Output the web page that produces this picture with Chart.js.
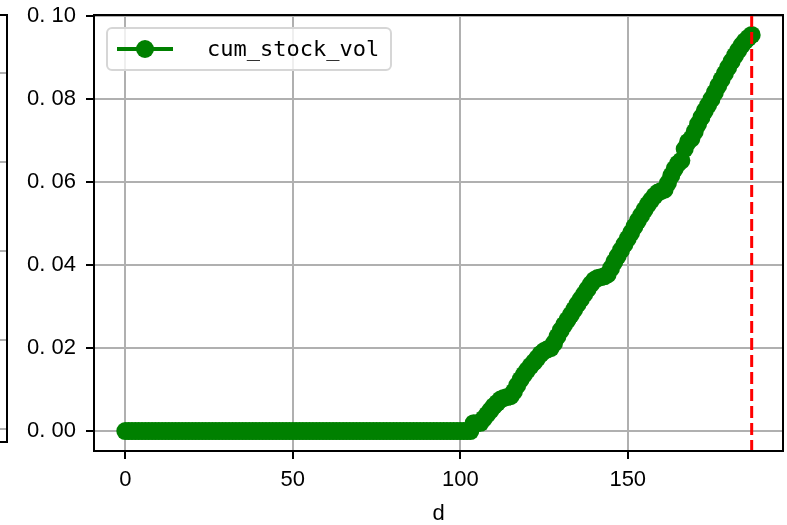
<!DOCTYPE html>
<html>
<head>
	<script src="https://cdn.jsdelivr.net/npm/chart.js@4/dist/chart.umd.min.js"></script>
	<title>cum_stock_vol</title>
	<style>
		body { margin: 0; background: #fff; }
	</style>
</head>
<body>
	<canvas id="myChart" width="787" height="525"></canvas>
	<script type="text/javascript">
		// d = 0 .. 187
		const seriesLabel = 'cum_stock_vol';
		const xTitle = 'd';
		const markerD = 187;   // red dashed vertical line
		const cumStockVol = [
			0, 0, 0, 0, 0, 0, 0, 0, 0, 0, 0, 0, 0, 0, 0, 0, 0, 0, 0, 0,
			0, 0, 0, 0, 0, 0, 0, 0, 0, 0, 0, 0, 0, 0, 0, 0, 0, 0, 0, 0,
			0, 0, 0, 0, 0, 0, 0, 0, 0, 0, 0, 0, 0, 0, 0, 0, 0, 0, 0, 0,
			0, 0, 0, 0, 0, 0, 0, 0, 0, 0, 0, 0, 0, 0, 0, 0, 0, 0, 0, 0,
			0, 0, 0, 0, 0, 0, 0, 0, 0, 0, 0, 0, 0, 0, 0, 0, 0, 0, 0, 0,
			0, 0, 0, 0,
			0.0019, 0.0019, 0.0020, 0.0030, 0.0040, 0.0050, 0.0060, 0.0068, 0.0076, 0.0080,
			0.0082, 0.0084, 0.0095, 0.0110, 0.0124, 0.0136, 0.0147, 0.0157, 0.0166, 0.0176,
			0.0186, 0.0193, 0.0197, 0.0200, 0.0212, 0.0228, 0.0243, 0.0256, 0.0268, 0.0280,
			0.0293, 0.0306, 0.0318, 0.0330, 0.0342, 0.0354, 0.0364, 0.0369, 0.0371, 0.0373,
			0.0378, 0.0392, 0.0408, 0.0422, 0.0436, 0.0450, 0.0464, 0.0478, 0.0493, 0.0507,
			0.0520, 0.0533, 0.0546, 0.0557, 0.0567, 0.0575, 0.0579, 0.0582, 0.0598, 0.0616,
			0.0632, 0.0645, 0.0652, 0.0680, 0.0697, 0.0705, 0.0722, 0.0740, 0.0756, 0.0772,
			0.0786, 0.0800, 0.0816, 0.0832, 0.0847, 0.0862, 0.0877, 0.0891, 0.0905, 0.0918,
			0.0930, 0.0940, 0.0948, 0.0955
		];
		const yTicks = [0, 0.02, 0.04, 0.06, 0.08, 0.10];
		const xTicks = [0, 50, 100, 150];

		const points = [];
		for (let i = 0; i < cumStockVol.length; i++) {
			points.push({ x: i, y: cumStockVol[i] });
		}

		const tickFont = { family: '"Liberation Sans", Arial, sans-serif', size: 22 };
		const green = '#008000';

		// frame, red dashed line, legend and the cut-off neighbour panel
		const extras = {
			id: 'extras',
			afterDatasetsDraw(chart) {
				const ctx = chart.ctx;
				const a = chart.chartArea;
				const xs = chart.scales.x;
				ctx.save();
				// red dashed axvline
				const rx = xs.getPixelForValue(markerD);
				ctx.strokeStyle = '#ff0000';
				ctx.lineWidth = 3;
				ctx.setLineDash([12, 5]);
				ctx.beginPath();
				ctx.moveTo(rx, a.top);
				ctx.lineTo(rx, a.bottom);
				ctx.stroke();
				ctx.setLineDash([]);

				// axes box
				ctx.strokeStyle = '#000';
				ctx.lineWidth = 2;
				ctx.strokeRect(a.left, a.top, a.right - a.left, a.bottom - a.top);

				// legend
				const lx = a.left + 13, ly = a.top + 13, lw = 284, lh = 42;
				ctx.beginPath();
				ctx.roundRect(lx, ly, lw, lh, 5);
				ctx.fillStyle = 'rgba(255,255,255,0.8)';
				ctx.fill();
				ctx.strokeStyle = '#d6d6d6';
				ctx.lineWidth = 2;
				ctx.stroke();
				const cy = ly + lh / 2;
				ctx.strokeStyle = green;
				ctx.lineWidth = 4;
				ctx.beginPath();
				ctx.moveTo(lx + 10, cy);
				ctx.lineTo(lx + 66, cy);
				ctx.stroke();
				ctx.fillStyle = green;
				ctx.beginPath();
				ctx.arc(lx + 38, cy, 9, 0, Math.PI * 2);
				ctx.fill();
				ctx.fillStyle = '#000';
				ctx.font = '22px "DejaVu Sans Mono", "Liberation Mono", monospace';
				ctx.textBaseline = 'middle';
				ctx.fillText(seriesLabel, lx + 100, cy + 1);

				// right edge of the neighbouring panel, cut off by the page
				const px = 7, pb = a.bottom - 9;
				ctx.strokeStyle = '#b0b0b0';
				ctx.lineWidth = 2;
				for (let k = 0; k < 5; k++) {
					const gy = a.top + 58 + k * 89;
					ctx.beginPath();
					ctx.moveTo(0, gy);
					ctx.lineTo(px, gy);
					ctx.stroke();
				}
				ctx.strokeStyle = '#000';
				ctx.beginPath();
				ctx.moveTo(0, a.top);
				ctx.lineTo(px, a.top);
				ctx.lineTo(px, pb);
				ctx.lineTo(0, pb);
				ctx.stroke();
				ctx.restore();
			}
		};

		const ctx = document.getElementById('myChart');
		const myChart = new Chart(ctx, {
			type: 'line',
			data: {
				datasets: [{
					label: seriesLabel,
					data: points,
					borderColor: green,
					backgroundColor: green,
					borderWidth: 4,
					pointRadius: 9,
					pointBorderWidth: 0,
					pointHoverRadius: 9,
					fill: false,
					tension: 0
				}]
			},
			options: {
				responsive: false,
				animation: false,
				layout: { autoPadding: false, padding: { left: 0, right: 4, top: 15, bottom: 0 } },
				plugins: {
					legend: { display: false },
					tooltip: { enabled: false }
				},
				scales: {
					x: {
						type: 'linear',
						min: -9.35,
						max: 196.35,
						afterBuildTicks: s => { s.ticks = xTicks.map(v => ({ value: v })); },
						afterFit: s => { s.height = 74; s.paddingLeft = 0; s.paddingRight = 0; },
						ticks: { color: '#000', font: tickFont, padding: 8, maxRotation: 0 },
						grid: { color: '#b0b0b0', lineWidth: 2, tickColor: '#000', tickLength: 8, tickWidth: 2 },
						border: { color: '#000', width: 2 },
						title: { display: true, text: xTitle, color: '#000', font: tickFont, padding: { top: 0, bottom: -2 } }
					},
					y: {
						min: -0.0048,
						max: 0.1003,
						afterBuildTicks: s => { s.ticks = yTicks.map(v => ({ value: v })); },
						afterFit: s => { s.width = 94; s.paddingTop = 0; s.paddingBottom = 0; },
						ticks: {
							color: '#000', font: tickFont, padding: 10,
							callback: v => v.toFixed(2).replace('.', '. ')
						},
						grid: { color: '#b0b0b0', lineWidth: 2, tickColor: '#000', tickLength: 8, tickWidth: 2 },
						border: { color: '#000', width: 2 }
					}
				}
			},
			plugins: [extras]
		});
	</script>
</body>
</html>
